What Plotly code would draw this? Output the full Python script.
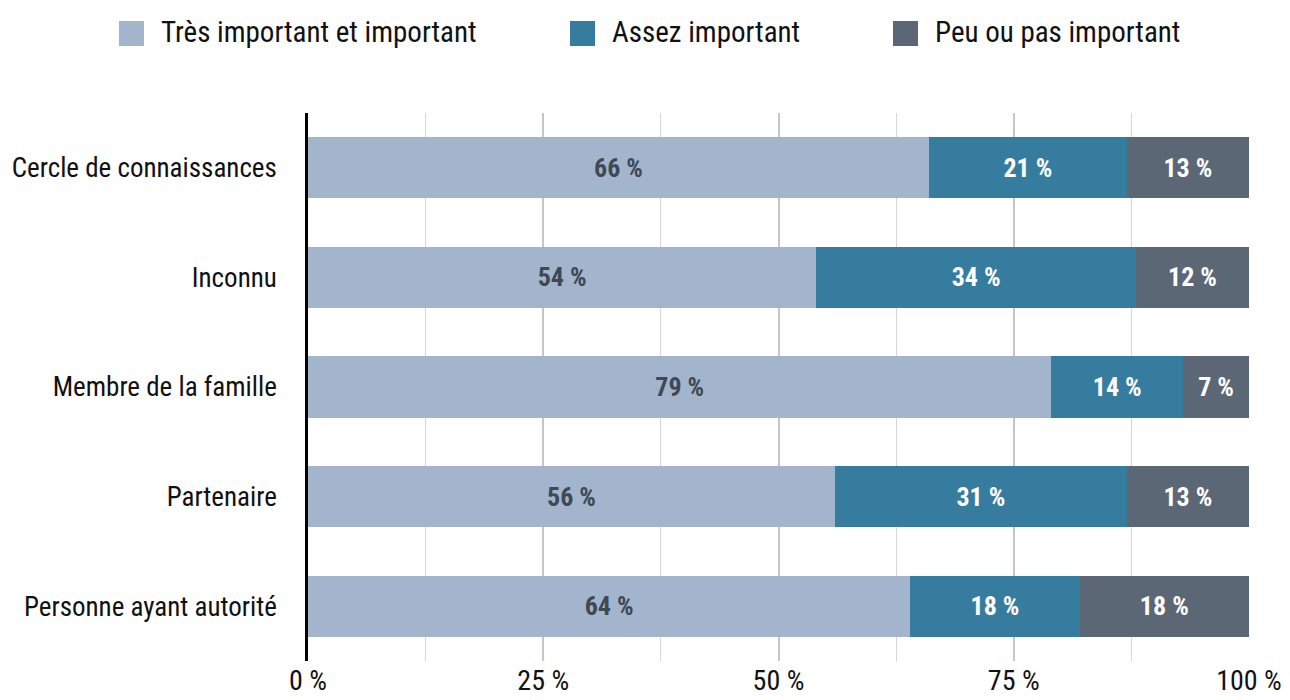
import plotly.graph_objects as go

categories = ["Cercle de connaissances", "Inconnu", "Membre de la famille", "Partenaire", "Personne ayant autorité"]
tres_important = [66, 54, 79, 56, 64]
assez_important = [21, 34, 14, 31, 18]
peu_important = [13, 12, 7, 13, 18]
series_names = ["Très important et important", "Assez important", "Peu ou pas important"]
tick_vals = [0, 25, 50, 75, 100]
tick_text = ["0 %", "25 %", "50 %", "75 %", "100 %"]

colors = ["#a2b5cc", "#367c9f", "#5b6775"]
text_colors = ["#3f4853", "#ffffff", "#ffffff"]
FONT = "Liberation Sans Narrow, Arial Narrow, Roboto Condensed, sans-serif"

fig = go.Figure()
for name, vals, c, tc in zip(series_names, [tres_important, assez_important, peu_important], colors, text_colors):
    fig.add_trace(go.Bar(
        y=categories, x=vals, name=name, orientation="h",
        marker=dict(color=c, line=dict(width=0)),
        text=[f"{v} %" for v in vals], textposition="inside", insidetextanchor="middle",
        textangle=0, textfont=dict(family=FONT, size=26, color=tc, weight="bold"),
        showlegend=False, hoverinfo="skip",
    ))

# The page body adds a small offset; figure is sized to fit the 1290x700 window.
OFF = 8
W, H = 1290 - OFF, 700 - OFF
# target plot area in window pixels: x 308..1249, y 113..662
L, R, T = 308 - OFF, W - (1249 - OFF), 113 - OFF
B = H - (661 - OFF)
pw, ph = W - L - R, H - T - B
def px(x): return (x - OFF - L) / pw
def py(y): return (H - B - (y - OFF)) / ph
legend_x = [119, 570, 893]
for lx, name, c in zip(legend_x, series_names, colors):
    fig.add_shape(type="rect", xref="paper", yref="paper",
                  x0=px(lx), x1=px(lx + 25), y0=py(46), y1=py(21),
                  fillcolor=c, line=dict(width=0))
    fig.add_annotation(xref="paper", yref="paper", x=px(lx + 40), y=py(32),
                       text=name, showarrow=False, xanchor="left", yanchor="middle",
                       font=dict(family=FONT, size=29, color="#111111"))

fig.update_layout(
    barmode="stack", bargap=0.44,
    width=W, height=H,
    margin=dict(l=L, r=R, t=T, b=B, pad=0, autoexpand=False),
    plot_bgcolor="white", paper_bgcolor="white",
    font=dict(family=FONT, size=27, color="#111111"),
    xaxis=dict(range=[0, 100], tickvals=tick_vals, ticktext=tick_text,
               showgrid=True, gridcolor="#c6c6c6", gridwidth=2,
               zeroline=False, showline=False, ticks="", automargin=False,
               ticklabelstandoff=0,
               tickfont=dict(size=28, color="#111111"),
               minor=dict(dtick=12.5, tick0=0, showgrid=True, gridcolor="#d6d6d6", gridwidth=1, ticks=""),
               fixedrange=True),
    yaxis=dict(autorange="reversed", showline=True, linecolor="#000000", linewidth=2.5,
               showgrid=False, ticks="", automargin=False, ticklabelstandoff=23,
               tickfont=dict(size=27, color="#111111"), fixedrange=True),
)

fig.write_html("out.html")
